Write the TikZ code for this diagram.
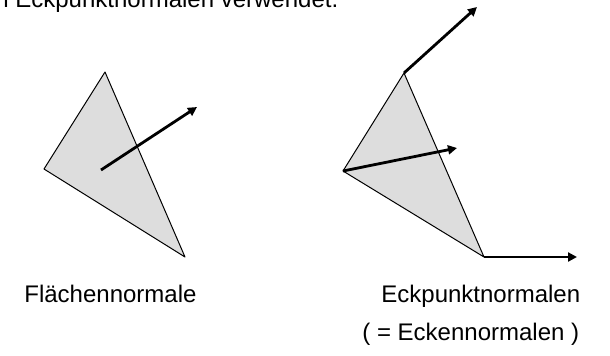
\documentclass[tikz,border=0pt]{standalone}
\usepackage{fontspec}
\setmainfont{Liberation Sans}
\usepackage{xcolor}
\usetikzlibrary{arrows.meta, positioning}
\definecolor{flgray}{RGB}{221,221,221}

\begin{document}
\begin{tikzpicture}[x=0.5pt, y=-0.5pt,
    tri/.style={fill=flgray, draw=black, line width=0.5pt, line join=round},
    normal/.style={line width=1.4pt, -{Triangle[length=4.5pt, width=4.5pt]}},
    lbl/.style={inner sep=0pt, anchor=base west, font=\fontsize{12}{14}\selectfont}]
\useasboundingbox (0,0) rectangle (610,355);
\clip (0,0) rectangle (610,355);

% Kopfzeile, oben abgeschnitten
\node[lbl] (kopf) at (-5,7) {n Eckpunktnormalen verwendet.};

% Flaechennormale
\coordinate (fa) at (105,72);
\coordinate (fb) at (44,169);
\coordinate (fc) at (185,257);
\draw[tri] (fa) -- (fb) -- (fc) -- cycle;
\coordinate (fm) at (101,170);
\coordinate (fn) at (197,107);
\draw[normal] (fm) -- (fn);

% Eckpunktnormalen
\coordinate (ea) at (404,73);
\coordinate (eb) at (343,171);
\coordinate (ec) at (484,257);
\draw[tri] (ea) -- (eb) -- (ec) -- cycle;
\coordinate (na) at (477,7);
\coordinate (nb) at (457,148);
\coordinate (nc) at (577,257);
\draw[normal] (ea) -- (na);
\draw[normal] (eb) -- (nb);
\draw[normal] (ec) -- (nc);

% Beschriftung
\node[lbl] (flaeche) at (24,302) {Flächennormale};
\node[lbl] (eck) at (381,302) {Eckpunktnormalen};
\node[lbl] (ecke) at (362,340) {( = Eckennormalen )};
\end{tikzpicture}
\end{document}
